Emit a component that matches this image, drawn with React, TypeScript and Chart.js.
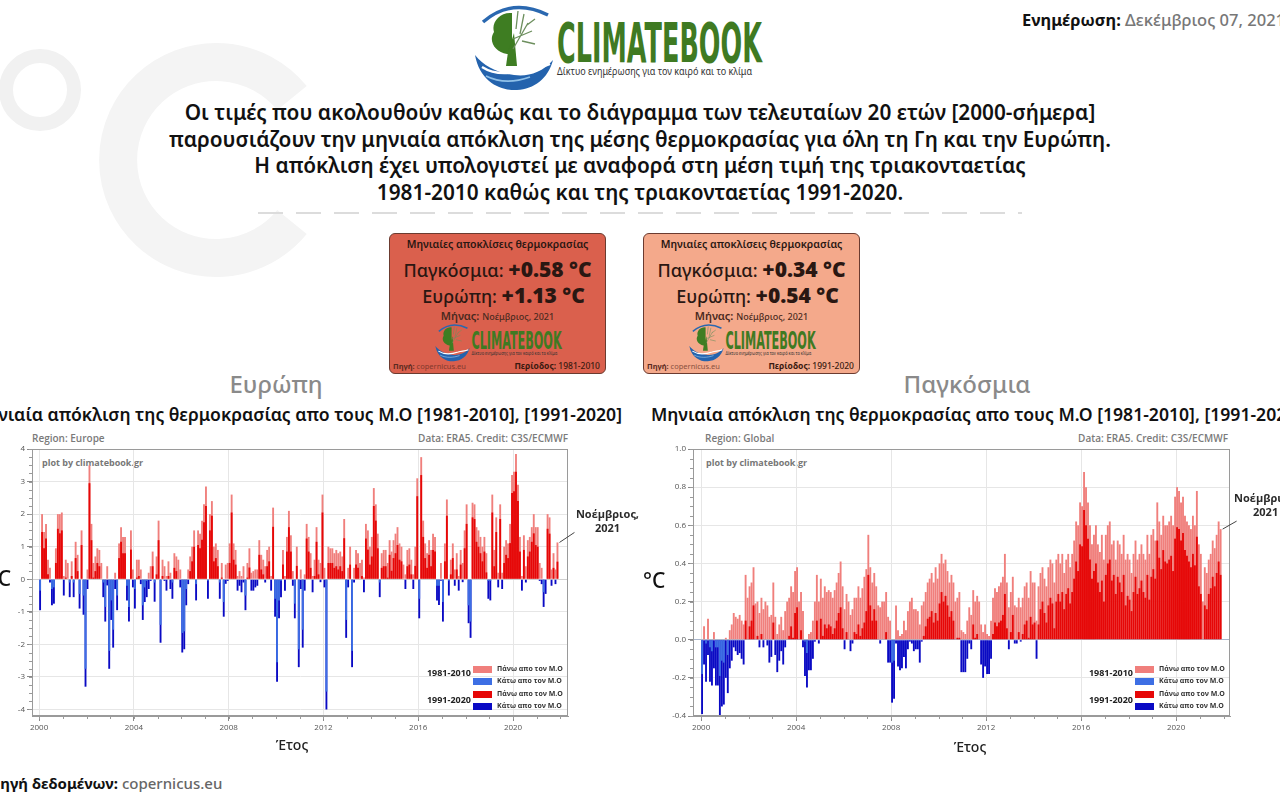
import React, { useEffect, useRef } from "react";
import { Chart, registerables } from "chart.js";

Chart.register(...registerables);

// ---------------- data ----------------
const START_YEAR = 2000;
const LAST_MONTH = ["Νοέμβριος,", "2021"];
const YEAR_TICKS = [2000, 2004, 2008, 2012, 2016, 2020];
const EUROPE_Y_TICKS = [-4, -3, -2, -1, 0, 1, 2, 3, 4];
const GLOBAL_Y_TICKS = [-0.4, -0.2, 0, 0.2, 0.4, 0.6, 0.8, 1.0];
const PERIODS = ["1981-2010", "1991-2020"];

// Europe, monthly anomaly vs 1981-2010 (Jan 2000 ... Nov 2021)
const EUROPE_1981_2010 = [
  -0.35, 2.0, 1.45, 1.7, 0.6, 0.35, -0.3, -0.25, 0.95, 2.0, 2.0, 2.05,
  0.1, 0.6, 0.5, -0.1, 0.55, -0.1, 1.15, 0.75, -0.45, 1.5, -0.5, -2.75,
  0.3, 3.5, 1.7, 0.5, 0.7, 0.95, 0.9, 0.5, -0.1, -0.85, 0.4, -2.2,
  -0.65, -1.55, 0.2, -0.5, 1.1, 1.6, 1.3, 1.3, -0.2, -0.85, 1.5, 0.3,
  -0.3, 0.6, 0.6, 0.3, -0.8, -0.25, -0.05, 0.2, 0.4, 0.85, -0.1, 0.7,
  1.8, -1.4, 0.6, 0.4, 0.1, 0.55, 0.2, -0.1, 0.8, 0.7, 0.6, 0.3,
  -1.65, -1.6, -0.3, 0.3, 0.7, 1.0, 1.5, -0.15, 1.5, 1.4, 1.8, 2.3,
  2.85, -0.05, 2.0, 2.4, 1.0, 1.1, 0.9, -0.1, 0.5, -0.7, 0.45, 0.5,
  1.1, 2.6, 1.1, 0.9, 0.1, 0.25, 0.1, 0.4, -0.5, 0.5, 0.95, 0.2,
  0.25, 0.3, 0.3, 1.2, 0.75, 0.6, 0.4, 0.9, 1.0, 0.1, 2.2, -0.6,
  -2.55, -0.65, -0.05, 0.9, 0.1, 1.3, 2.1, 1.35, 0.25, -0.75, 1.0, -2.15,
  0.3, -1.55, 0.15, 1.7, 1.3, 0.8, 0.1, 0.6, 1.6, 0.6, 0.5, 2.6,
  0.35, -3.45, 1.0, 0.95, 0.95, 0.8, 0.9, 0.8, 0.85, 0.7, 1.85, -1.25,
  0.35, 1.0, -2.2, 0.35, 0.9, 0.8, 0.5, 0.6, 0.05, 1.7, 1.5, 1.0,
  1.3, 2.8, 2.3, 1.4, -0.1, 0.8, 0.9, 0.9, 0.5, 1.2, 0.85, 1.2,
  1.4, 1.6, 1.1, 1.0, 0.45, 0.15, 0.9, 0.95, 0.6, 0.15, 1.0, 3.1,
  -0.6, 3.75, 1.8, 1.1, 0.8, 1.2, 0.9, 1.4, 1.3, -0.2, -0.2, 0.5,
  -0.7, 1.1, 2.45, -0.05, 0.6, 1.1, 0.3, 0.8, 0.1, 0.9, 0.5, 1.5,
  2.3, -0.8, -1.3, 2.35, 2.3, 1.6, 1.5, 1.3, 1.0, 1.3, 0.8, -0.05,
  -0.05, 2.6, 0.9, 1.9, 0.2, 2.3, 0.2, 1.0, 1.2, 1.1, 1.7, 3.2,
  3.3, 3.85, 2.9, 1.3, 0.1, 1.35, 0.4, 1.2, 1.3, 1.6, 2.0, 1.6,
  1.6, 0.5, 0.35, -0.4, 0.0, 2.0, 1.9, 0.3, 0.8, 0.3, 1.13,
];

// Europe, monthly anomaly vs 1991-2020
const EUROPE_1991_2020 = [
  -0.95, 1.45, 0.95, 1.25, 0.15, -0.1, -0.8, -0.75, 0.5, 1.55, 1.41, 1.5,
  -0.5, 0.05, 0.0, -0.55, 0.1, -0.55, 0.65, 0.25, -0.9, 1.05, -1.09, -3.3,
  -0.3, 2.95, 1.2, 0.05, 0.25, 0.5, 0.4, 0.0, -0.55, -1.3, -0.19, -2.75,
  -1.25, -2.1, -0.3, -0.95, 0.65, 1.15, 0.8, 0.8, -0.65, -1.3, 0.91, -0.25,
  -0.9, 0.05, 0.1, -0.15, -1.25, -0.7, -0.55, -0.3, -0.05, 0.4, -0.69, 0.15,
  1.2, -1.95, 0.1, -0.05, -0.35, 0.1, -0.3, -0.6, 0.35, 0.25, 0.01, -0.25,
  -2.25, -2.15, -0.8, -0.15, 0.25, 0.55, 1.0, -0.65, 1.05, 0.95, 1.21, 1.75,
  2.25, -0.6, 1.5, 1.95, 0.55, 0.65, 0.4, -0.6, 0.05, -1.15, -0.14, -0.05,
  0.5, 2.05, 0.6, 0.45, -0.35, -0.2, -0.4, -0.1, -0.95, 0.05, 0.36, -0.35,
  -0.35, -0.25, -0.2, 0.75, 0.3, 0.15, -0.1, 0.4, 0.55, -0.35, 1.61, -1.15,
  -3.15, -1.2, -0.55, 0.45, -0.35, 0.85, 1.6, 0.85, -0.2, -1.2, 0.41, -2.7,
  -0.3, -2.1, -0.35, 1.25, 0.85, 0.35, -0.4, 0.1, 1.15, 0.15, -0.09, 2.05,
  -0.25, -4.0, 0.5, 0.5, 0.5, 0.35, 0.4, 0.3, 0.4, 0.25, 1.26, -1.8,
  -0.25, 0.45, -2.7, -0.1, 0.45, 0.35, 0.0, 0.1, -0.4, 1.25, 0.91, 0.45,
  0.7, 2.25, 1.8, 0.95, -0.55, 0.35, 0.4, 0.4, 0.05, 0.75, 0.26, 0.65,
  0.8, 1.05, 0.6, 0.55, 0.0, -0.3, 0.4, 0.45, 0.15, -0.3, 0.41, 2.55,
  -1.2, 3.2, 1.3, 0.65, 0.35, 0.75, 0.4, 0.9, 0.85, -0.65, -0.79, -0.05,
  -1.3, 0.55, 1.95, -0.5, 0.15, 0.65, -0.2, 0.3, -0.35, 0.45, -0.09, 0.95,
  1.7, -1.35, -1.8, 1.9, 1.85, 1.15, 1.0, 0.8, 0.55, 0.85, 0.21, -0.6,
  -0.65, 2.05, 0.4, 1.45, -0.25, 1.85, -0.3, 0.5, 0.75, 0.65, 1.11, 2.65,
  2.7, 3.3, 2.4, 0.85, -0.35, 0.9, -0.1, 0.7, 0.85, 1.15, 1.41, 1.05,
  1.0, -0.05, -0.15, -0.85, -0.45, 1.55, 1.4, -0.2, 0.35, -0.15, 0.54,
];

// Global, monthly anomaly vs 1981-2010
const GLOBAL_1981_2010 = [
  -0.18, 0.07, -0.02, 0.11, -0.04, -0.06, 0.04, -0.04, -0.04, -0.19, -0.11, -0.12,
  0.01, -0.08, 0.05, 0.08, 0.14, 0.12, 0.11, 0.13, 0.1, 0.08, 0.34, 0.22,
  0.28, 0.3, 0.38, 0.19, 0.2, 0.14, 0.22, 0.16, 0.2, 0.18, 0.12, 0.13,
  0.3, 0.12, 0.03, 0.08, 0.12, 0.05, 0.15, 0.2, 0.22, 0.28, 0.25, 0.36,
  0.38, 0.2, 0.25, 0.15, -0.01, -0.07, 0.03, 0.04, 0.1, 0.2, 0.34, 0.2,
  0.32, 0.22, 0.28, 0.25, 0.26, 0.25, 0.22, 0.26, 0.3, 0.35, 0.41, 0.28,
  0.16, 0.24, 0.2, 0.13, 0.16, 0.22, 0.22, 0.28, 0.22, 0.27, 0.33, 0.37,
  0.55, 0.38, 0.3, 0.35, 0.28, 0.18, 0.17, 0.2, 0.2, 0.25, 0.12, 0.1,
  -0.12, -0.11, 0.18, 0.05, 0.02, 0.03, 0.1, 0.05, 0.15, 0.2, 0.22, 0.16,
  0.16, 0.15, 0.08, 0.18, 0.2, 0.25, 0.3, 0.32, 0.35, 0.3, 0.38, 0.32,
  0.4, 0.45, 0.4, 0.42, 0.36, 0.3, 0.34, 0.3, 0.2, 0.22, 0.25, 0.05,
  0.04, 0.03, 0.1, 0.17, 0.13, 0.26, 0.2, 0.23, 0.2, 0.08, 0.04, 0.08,
  0.03, 0.02, 0.1, 0.22, 0.27, 0.25, 0.28, 0.3, 0.33, 0.45, 0.3, 0.17,
  0.25, 0.33, 0.18, 0.17, 0.22, 0.17, 0.22, 0.28, 0.3, 0.22, 0.36, 0.3,
  0.3, 0.1, 0.28, 0.35, 0.38, 0.32, 0.28, 0.38, 0.42, 0.4, 0.3, 0.42,
  0.45, 0.4, 0.45, 0.35, 0.42, 0.45, 0.38, 0.45, 0.52, 0.62, 0.6, 0.72,
  0.7, 0.88, 0.8, 0.72, 0.6, 0.5, 0.55, 0.6, 0.5, 0.46, 0.55, 0.42,
  0.55, 0.6, 0.62, 0.5, 0.52, 0.42, 0.52, 0.5, 0.45, 0.55, 0.42, 0.45,
  0.42, 0.35, 0.45, 0.52, 0.42, 0.45, 0.5, 0.45, 0.42, 0.55, 0.45, 0.55,
  0.58, 0.52, 0.72, 0.62, 0.55, 0.65, 0.6, 0.6, 0.62, 0.65, 0.6, 0.75,
  0.8, 0.78, 0.72, 0.75, 0.65, 0.62, 0.6, 0.58, 0.65, 0.6, 0.78, 0.5,
  0.45, 0.2, 0.38, 0.35, 0.42, 0.45, 0.52, 0.48, 0.55, 0.62, 0.58,
];

// Global, monthly anomaly vs 1991-2020
const GLOBAL_1991_2020 = [
  -0.39, -0.13, -0.22, -0.08, -0.22, -0.24, -0.15, -0.24, -0.24, -0.4, -0.35, -0.34,
  -0.2, -0.28, -0.15, -0.11, -0.04, -0.06, -0.08, -0.07, -0.1, -0.13, 0.1, 0.0,
  0.07, 0.1, 0.18, 0.0, 0.02, -0.04, 0.03, -0.04, 0.0, -0.03, -0.12, -0.09,
  0.09, -0.08, -0.17, -0.11, -0.06, -0.13, -0.04, 0.0, 0.02, 0.07, 0.01, 0.14,
  0.17, 0.0, 0.05, -0.04, -0.19, -0.25, -0.16, -0.16, -0.1, -0.01, 0.1, -0.02,
  0.11, 0.02, 0.08, 0.06, 0.08, 0.07, 0.03, 0.06, 0.1, 0.14, 0.17, 0.06,
  -0.05, 0.04, 0.0, -0.06, -0.02, 0.04, 0.03, 0.08, 0.02, 0.06, 0.09, 0.15,
  0.34, 0.18, 0.1, 0.16, 0.1, 0.0, -0.02, 0.0, 0.0, 0.04, -0.12, -0.12,
  -0.33, -0.31, -0.02, -0.14, -0.16, -0.15, -0.09, -0.15, -0.05, -0.01, -0.02, -0.06,
  -0.05, -0.05, -0.12, -0.01, 0.02, 0.07, 0.11, 0.12, 0.15, 0.09, 0.14, 0.1,
  0.19, 0.25, 0.2, 0.23, 0.18, 0.12, 0.15, 0.1, 0.0, 0.01, 0.01, -0.17,
  -0.17, -0.17, -0.1, -0.02, -0.05, 0.08, 0.01, 0.03, 0.0, -0.13, -0.2, -0.14,
  -0.18, -0.18, -0.1, 0.03, 0.09, 0.07, 0.09, 0.1, 0.13, 0.24, 0.06, -0.05,
  0.04, 0.13, -0.02, -0.02, 0.04, -0.01, 0.03, 0.08, 0.1, 0.01, 0.12, 0.08,
  0.09, -0.1, 0.08, 0.16, 0.2, 0.14, 0.09, 0.18, 0.22, 0.19, 0.06, 0.2,
  0.24, 0.2, 0.25, 0.16, 0.24, 0.27, 0.19, 0.25, 0.32, 0.41, 0.36, 0.5,
  0.49, 0.68, 0.6, 0.53, 0.42, 0.32, 0.36, 0.4, 0.3, 0.25, 0.31, 0.2,
  0.34, 0.4, 0.42, 0.31, 0.34, 0.24, 0.33, 0.3, 0.25, 0.34, 0.18, 0.23,
  0.21, 0.15, 0.25, 0.33, 0.24, 0.27, 0.31, 0.25, 0.22, 0.34, 0.21, 0.33,
  0.37, 0.32, 0.52, 0.43, 0.37, 0.47, 0.41, 0.4, 0.42, 0.44, 0.36, 0.53,
  0.59, 0.58, 0.52, 0.56, 0.47, 0.44, 0.41, 0.38, 0.45, 0.39, 0.54, 0.28,
  0.24, 0.0, 0.18, 0.16, 0.24, 0.27, 0.33, 0.28, 0.35, 0.41, 0.34,
];

const INTRO_LINES = [
  "Οι τιμές που ακολουθούν καθώς και το διάγραμμα των τελευταίων 20 ετών [2000-σήμερα]",
  "παρουσιάζουν την μηνιαία απόκλιση της μέσης θερμοκρασίας για όλη τη Γη και την Ευρώπη.",
  "Η απόκλιση έχει υπολογιστεί με αναφορά στη μέση τιμή της τριακονταετίας",
  "1981-2010 καθώς και της τριακονταετίας 1991-2020.",
];
const CHART_TITLE = "Μηνιαία απόκλιση της θερμοκρασίας απο τους Μ.Ο [1981-2010], [1991-2020]";

const COLORS = {
  above81: "#f07f7c",
  below81: "#3d6fe4",
  above91: "#e60707",
  below91: "#0a0ac4",
};

const FONT_UI = '"Noto Sans", "Open Sans", sans-serif';
const FONT_CHART = '"Open Sans", "Noto Sans", sans-serif';

const last = (a: number[]) => a[a.length - 1];
const fmtSigned = (v: number) => (v >= 0 ? "+" : "") + v.toFixed(2) + " °C";

// ---------------- chart decoration plugin ----------------
const chartDecor = {
  id: "chartDecor",
  afterDraw(chart: any, _args: any, opts: any) {
    const { ctx, chartArea: a, scales } = chart;
    const x = scales.x;
    const y = scales.y;
    ctx.save();
    ctx.strokeStyle = "#9a9a9a";
    ctx.lineWidth = 1;
    ctx.strokeRect(a.left + 0.5, a.top + 0.5, a.right - a.left - 1, a.bottom - a.top - 1);
    ctx.beginPath();
    for (let yr = Math.ceil(x.min); yr <= x.max; yr++) {
      const px = Math.round(x.getPixelForValue(yr)) + 0.5;
      ctx.moveTo(px, a.bottom);
      ctx.lineTo(px, a.bottom + 3);
    }
    const step = opts.yMinor;
    for (let k = Math.ceil(y.min / step - 1e-6); k * step <= y.max + 1e-9; k++) {
      const py = Math.round(y.getPixelForValue(k * step)) + 0.5;
      ctx.moveTo(a.left, py);
      ctx.lineTo(a.left - 3, py);
    }
    ctx.stroke();

    const values: number[] = opts.values;
    const i = values.length - 1;
    const bx = x.getPixelForValue(START_YEAR + (i + 0.5) / 12);
    const by = y.getPixelForValue(values[i]);
    const n = opts.note;
    ctx.strokeStyle = "#444";
    ctx.beginPath();
    ctx.moveTo(bx + 2, by);
    ctx.lineTo(bx + n.lineDx, by - n.lineDy);
    ctx.stroke();
    ctx.fillStyle = "#2b2b2b";
    ctx.font = `bold 11px ${FONT_CHART}`;
    ctx.textAlign = "center";
    ctx.textBaseline = "middle";
    n.lines.forEach((t: string, j: number) => ctx.fillText(t, bx + n.dx, by + n.dy + j * 14));
    ctx.restore();
  },
};

type ChartProps = {
  base: number[];
  recent: number[];
  yMin: number;
  yMax: number;
  yTicks: number[];
  yDecimals: number;
  yMinor: number;
  xMin: number;
  xMax: number;
  left: number;
  width: number;
  yAxisWidth: number;
  padRight: number;
  zeroColor: string;
  note: { dx: number; dy: number; lineDx: number; lineDy: number; lines: string[] };
};

function AnomalyChart(p: ChartProps) {
  const ref = useRef<HTMLCanvasElement>(null);
  useEffect(() => {
    const pts = (arr: number[], keep: (v: number) => boolean) =>
      arr
        .map((v, i) => ({ x: START_YEAR + (i + 0.5) / 12, y: v }))
        .filter((pt) => keep(pt.y));
    const common = { grouped: false, barPercentage: 0.95, categoryPercentage: 1, borderWidth: 0 };
    const tickFont = { size: 8, family: FONT_CHART };
    const chart = new Chart(ref.current as HTMLCanvasElement, {
      type: "bar",
      data: {
        datasets: [
          { label: PERIODS[0] + " κάτω", data: pts(p.base, (v) => v < 0), backgroundColor: COLORS.below81, ...common },
          { label: PERIODS[1] + " πάνω", data: pts(p.recent, (v) => v >= 0), backgroundColor: COLORS.above91, ...common },
          { label: PERIODS[0] + " πάνω", data: pts(p.base, (v) => v >= 0), backgroundColor: COLORS.above81, ...common },
          { label: PERIODS[1] + " κάτω", data: pts(p.recent, (v) => v < 0), backgroundColor: COLORS.below91, ...common },
        ] as any,
      },
      options: {
        animation: false,
        responsive: false,
        maintainAspectRatio: false,
        layout: { padding: { top: 9, right: p.padRight, bottom: 0, left: 0 } },
        plugins: {
          legend: { display: false },
          tooltip: { enabled: false },
          chartDecor: { yMinor: p.yMinor, values: p.base, note: p.note },
        } as any,
        scales: {
          x: {
            type: "linear",
            min: p.xMin,
            max: p.xMax,
            offset: false,
            grid: { offset: false, color: "#e6e6e6", tickColor: "#8a8a8a", tickLength: 5 },
            border: { color: "#9a9a9a" },
            ticks: {
              autoSkip: false,
              maxRotation: 0,
              padding: 2,
              color: "#555",
              font: tickFont,
              callback: (v: any) => String(v),
            },
            afterBuildTicks: (s: any) => {
              s.ticks = YEAR_TICKS.map((v) => ({ value: v }));
            },
            afterFit: (s: any) => {
              s.height = 24;
            },
          },
          y: {
            type: "linear",
            min: p.yMin,
            max: p.yMax,
            grid: {
              color: (c: any) => (c.tick && Math.abs(c.tick.value) < 1e-9 ? p.zeroColor : "#e6e6e6"),
              tickColor: "#8a8a8a",
              tickLength: 5,
            },
            border: { color: "#9a9a9a" },
            ticks: {
              autoSkip: false,
              padding: 2,
              color: "#555",
              font: tickFont,
              callback: (v: any) => Number(v).toFixed(p.yDecimals),
            },
            afterBuildTicks: (s: any) => {
              s.ticks = p.yTicks.map((v) => ({ value: v }));
            },
            afterFit: (s: any) => {
              s.width = p.yAxisWidth;
            },
          },
        } as any,
      },
      plugins: [chartDecor],
    });
    return () => chart.destroy();
  }, []);
  return (
    <canvas
      ref={ref}
      width={p.width}
      height={300}
      style={{ position: "absolute", left: p.left, top: 440, width: p.width, height: 300 }}
    />
  );
}

// ---------------- decorative pieces ----------------
function Logo({ left, top, scale }: { left: number; top: number; scale: number }) {
  return (
    <div style={{ position: "absolute", left, top, width: 292, height: 90, transform: `scale(${scale})`, transformOrigin: "0 0" }}>
      <svg width={292} height={90} style={{ position: "absolute", left: 0, top: 0, overflow: "visible" }}>
        <path d="M11,19 Q40,-6 76,12" fill="none" stroke="#2a68b0" strokeWidth={3.5} />
        <path d="M3,52 C8,80 30,88 45,87 C62,86 76,76 81,57 C70,70 55,74 42,72 C25,70 12,63 3,52 Z" fill="#2463ad" />
        <path d="M10,64 C24,73 40,71 55,66 C63,63 70,65 78,61" fill="none" stroke="#ffffff" strokeWidth={2.4} />
        <path d="M14,73 C28,80 44,79 58,74" fill="none" stroke="#8fc0e8" strokeWidth={1.6} />
        <path d="M40,10 C28,9 19,19 22,29 C16,38 23,49 35,51 L40,51 Z" fill="#3e7d22" />
        <path d="M36,49 L34,63 L45,63 L42,30 Z" fill="#3e7d22" />
        <path d="M41,46 L56,20 M41,36 L60,28 M48,31 L52,11 M50,38 L63,41 M44,26 L46,8 M55,22 L63,16" stroke="#6d8f5e" strokeWidth={1.3} fill="none" />
        <text x={85} y={59} fontSize={56} fontWeight="bold" fill="#3f7a22" fontFamily='"DejaVu Sans", sans-serif' textLength={205} lengthAdjust="spacingAndGlyphs">
          CLIMATEBOOK
        </text>
        <text x={85} y={72} fontSize={10} fill="#333" fontFamily={FONT_UI} textLength={195} lengthAdjust="spacingAndGlyphs">
          Δίκτυο ενημέρωσης για τον καιρό και το κλίμα
        </text>
      </svg>
    </div>
  );
}

function InfoBox({ left, bg, period, g, e }: { left: number; bg: string; period: string; g: number; e: number }) {
  const line = (top: number, h: number): React.CSSProperties => ({
    position: "absolute",
    left: 0,
    width: "100%",
    top,
    lineHeight: h + "px",
    textAlign: "center",
    whiteSpace: "nowrap",
  });
  return (
    <div
      style={{
        position: "absolute",
        left,
        top: 233,
        width: 217,
        height: 141,
        background: bg,
        border: "1.5px solid #6b3b30",
        borderRadius: 6,
        boxSizing: "border-box",
        color: "#2a1712",
        fontFamily: FONT_UI,
        overflow: "hidden",
      }}
    >
      <div style={{ ...line(3, 14), fontSize: 10.5, fontWeight: 600 }}>Μηνιαίες αποκλίσεις θερμοκρασίας</div>
      <div style={{ ...line(23, 24), fontSize: 18, fontWeight: 500 }}>
        Παγκόσμια: <span style={{ fontSize: 21, fontWeight: 900 }}>{fmtSigned(g)}</span>
      </div>
      <div style={{ ...line(49, 24), fontSize: 18, fontWeight: 500, paddingLeft: 12, boxSizing: "border-box" }}>
        Ευρώπη: <span style={{ fontSize: 21, fontWeight: 900 }}>{fmtSigned(e)}</span>
      </div>
      <div style={{ ...line(75, 14), fontSize: 11, fontWeight: 600, color: "#4a2a20" }}>
        Μήνας: <span style={{ fontSize: 9, fontWeight: 500 }}>{LAST_MONTH.join(" ")}</span>
      </div>
      <Logo left={44} top={89} scale={0.44} />
      <div style={{ position: "absolute", left: 3, top: 126, lineHeight: "12px", fontSize: 7.5, color: "#5a2a20", whiteSpace: "nowrap" }}>
        <b>Πηγή:</b> <span style={{ opacity: 0.7 }}>copernicus.eu</span>
      </div>
      <div style={{ position: "absolute", right: 5, top: 126, lineHeight: "12px", fontSize: 8.5, fontWeight: 700, color: "#3a1a10", whiteSpace: "nowrap" }}>
        Περίοδος: <span style={{ fontWeight: 500 }}>{period}</span>
      </div>
    </div>
  );
}

function ChartLegend({ left, top }: { left: number; top: number }) {
  const sw = (t: number, c: string) => (
    <div style={{ position: "absolute", left: 48, top: t, width: 19, height: 7, background: c }} />
  );
  const txt = (t: number, s: string) => (
    <div style={{ position: "absolute", left: 72, top: t - 5, lineHeight: "10px", fontSize: 7, fontWeight: 700, color: "#333", whiteSpace: "nowrap" }}>{s}</div>
  );
  const lab = (t: number, s: string) => (
    <div style={{ position: "absolute", left: -10, width: 56, top: t - 6, lineHeight: "12px", fontSize: 9, fontWeight: 700, color: "#222", textAlign: "right" }}>{s}</div>
  );
  return (
    <div style={{ position: "absolute", left, top, fontFamily: FONT_CHART }}>
      {lab(10, PERIODS[0])}
      {sw(3, COLORS.above81)}
      {txt(6, "Πάνω απο τον Μ.Ο")}
      {sw(15, COLORS.below81)}
      {txt(18, "Κάτω απο τον Μ.Ο")}
      {lab(37, PERIODS[1])}
      {sw(28, COLORS.above91)}
      {txt(31, "Πάνω απο τον Μ.Ο")}
      {sw(40, COLORS.below91)}
      {txt(43, "Κάτω απο τον Μ.Ο")}
    </div>
  );
}

const abs = (s: React.CSSProperties): React.CSSProperties => ({ position: "absolute", whiteSpace: "nowrap", ...s });

export default function App() {
  return (
    <div
      style={{
        position: "fixed",
        left: 0,
        top: 0,
        width: 1280,
        height: 800,
        overflow: "hidden",
        background: "#ffffff",
        fontFamily: FONT_UI,
        color: "#111",
      }}
    >
      {/* watermark °C */}
      <svg width={340} height={300} style={{ position: "absolute", left: 0, top: 0 }}>
        <circle cx={40} cy={90} r={34} fill="none" stroke="#f1f1f1" strokeWidth={14} />
        <path d="M 292 222 A 98 98 0 1 1 292 98" fill="none" stroke="#f4f4f4" strokeWidth={38} />
      </svg>

      <Logo left={472} top={3} scale={1} />

      <div style={abs({ left: 1022, top: 10, lineHeight: "20px", fontSize: 16.5 })}>
        <span style={{ fontWeight: 700, color: "#111" }}>Ενημέρωση:</span>{" "}
        <span style={{ color: "#777", fontWeight: 500 }}>Δεκέμβριος 07, 2021</span>
      </div>

      {INTRO_LINES.map((t, i) => (
        <div
          key={i}
          style={abs({ left: 0, width: 1280, textAlign: "center", top: 99 + i * 26.5, lineHeight: "26px", fontSize: 20.8, fontWeight: 600, color: "#111" })}
        >
          {t}
        </div>
      ))}

      <svg width={780} height={6} style={{ position: "absolute", left: 258, top: 210 }}>
        <line x1={0} y1={3} x2={764} y2={3} stroke="#dcdcdc" strokeWidth={2} strokeDasharray="25 13" />
      </svg>

      <InfoBox left={389} bg="#da604d" period={PERIODS[0]} g={last(GLOBAL_1981_2010)} e={last(EUROPE_1981_2010)} />
      <InfoBox left={643} bg="#f4a98b" period={PERIODS[1]} g={last(GLOBAL_1991_2020)} e={last(EUROPE_1991_2020)} />

      <div style={abs({ left: 176, width: 200, textAlign: "center", top: 369, lineHeight: "30px", fontSize: 24, fontWeight: 500, color: "#8a8a8a" })}>Ευρώπη</div>
      <div style={abs({ left: 867, width: 200, textAlign: "center", top: 369, lineHeight: "30px", fontSize: 24, fontWeight: 500, color: "#8a8a8a" })}>Παγκόσμια</div>

      <div style={abs({ right: 658, top: 403, lineHeight: "22px", fontSize: 17.6, fontWeight: 600, color: "#111" })}>{CHART_TITLE}</div>
      <div style={abs({ left: 651, top: 403, lineHeight: "22px", fontSize: 17.6, fontWeight: 600, color: "#111" })}>{CHART_TITLE}</div>

      {/* chart labels behind the canvases */}
      <div style={abs({ left: 32, top: 431, lineHeight: "14px", fontSize: 10, fontWeight: 600, color: "#7a7a7a", fontFamily: FONT_CHART })}>Region: Europe</div>
      <div style={abs({ right: 712, top: 431, lineHeight: "14px", fontSize: 10, fontWeight: 600, color: "#7a7a7a", fontFamily: FONT_CHART })}>Data: ERA5. Credit: C3S/ECMWF</div>
      <div style={abs({ left: 705, top: 431, lineHeight: "14px", fontSize: 10, fontWeight: 600, color: "#7a7a7a", fontFamily: FONT_CHART })}>Region: Global</div>
      <div style={abs({ right: 52, top: 431, lineHeight: "14px", fontSize: 10, fontWeight: 600, color: "#7a7a7a", fontFamily: FONT_CHART })}>Data: ERA5. Credit: C3S/ECMWF</div>
      <div style={abs({ left: 42, top: 457, lineHeight: "12px", fontSize: 9, fontWeight: 700, color: "#777", fontFamily: FONT_CHART })}>plot by climatebook.gr</div>
      <div style={abs({ left: 706, top: 457, lineHeight: "12px", fontSize: 9, fontWeight: 700, color: "#777", fontFamily: FONT_CHART })}>plot by climatebook.gr</div>

      <AnomalyChart
        base={EUROPE_1981_2010}
        recent={EUROPE_1991_2020}
        yMin={-4.2}
        yMax={4}
        yTicks={EUROPE_Y_TICKS}
        yDecimals={0}
        yMinor={0.25}
        xMin={1999.7}
        xMax={2022.32}
        left={0}
        width={640}
        yAxisWidth={32}
        padRight={72}
        zeroColor="#d0d0d0"
        note={{ dx: 50, dy: -28, lineDx: 17, lineDy: 10, lines: LAST_MONTH }}
      />
      <AnomalyChart
        base={GLOBAL_1981_2010}
        recent={GLOBAL_1991_2020}
        yMin={-0.4}
        yMax={1.0}
        yTicks={GLOBAL_Y_TICKS}
        yDecimals={1}
        yMinor={0.05}
        xMin={1999.66}
        xMax={2022.27}
        left={640}
        width={640}
        yAxisWidth={53}
        padRight={50}
        zeroColor="#a9b6cc"
        note={{ dx: 45, dy: -30, lineDx: 16, lineDy: 8, lines: LAST_MONTH }}
      />

      <ChartLegend left={425} top={663} />
      <ChartLegend left={1087} top={663} />

      <div style={abs({ right: 1269, top: 565, lineHeight: "26px", fontSize: 21, fontWeight: 500, color: "#111" })}>°C</div>
      <div style={abs({ left: 643, top: 567, lineHeight: "26px", fontSize: 21, fontWeight: 500, color: "#111" })}>°C</div>
      <div style={abs({ left: 242, width: 100, textAlign: "center", top: 736, lineHeight: "18px", fontSize: 14, fontWeight: 500, color: "#222" })}>Έτος</div>
      <div style={abs({ left: 920, width: 100, textAlign: "center", top: 738, lineHeight: "18px", fontSize: 14, fontWeight: 500, color: "#222" })}>Έτος</div>

      <div style={abs({ left: -11, top: 774, lineHeight: "18px", fontSize: 15 })}>
        <span style={{ fontWeight: 700, color: "#111" }}>Πηγή δεδομένων:</span>{" "}
        <span style={{ fontWeight: 500, color: "#666" }}>copernicus.eu</span>
      </div>
    </div>
  );
}
